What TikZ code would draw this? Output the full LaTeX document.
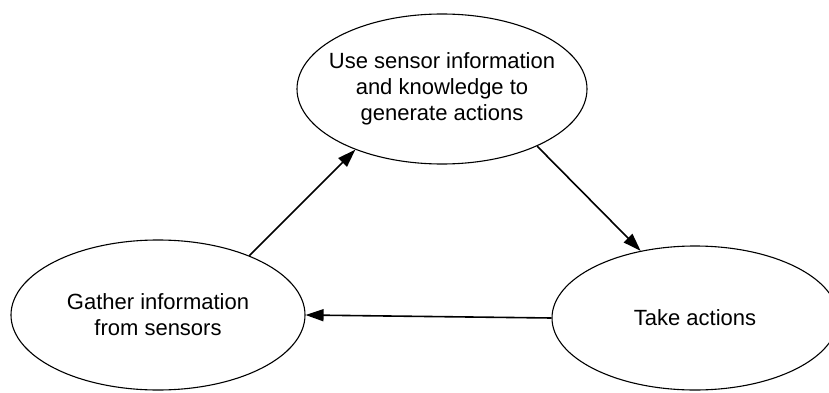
\documentclass[tikz,border=0pt]{standalone}
\usepackage{fontspec}
\setmainfont{Liberation Sans}
\usetikzlibrary{shapes.geometric,arrows.meta}

\tikzset{
  stage/.style={ellipse, draw=black, line width=1.1pt, inner sep=0pt},
  stagetext/.style={align=center, font=\fontsize{22}{26}\selectfont, inner sep=0pt},
  flow/.style={line width=1.6pt, -{Triangle[length=18pt,width=12pt]}},
}

\begin{document}
\begin{tikzpicture}[x=1pt, y=-1pt]
  \useasboundingbox (0,0) rectangle (829,393);

  % the three stages of the loop
  \node[stage, minimum width=290pt, minimum height=150pt] (use) at (442,89) {};
  \node[stagetext] (useText) at (use) {Use sensor information\\and knowledge to\\generate actions};

  \node[stage, minimum width=294pt, minimum height=150pt] (gather) at (158,315) {};
  \node[stagetext] (gatherText) at (gather) {Gather information\\from sensors};

  \node[stage, minimum width=286pt, minimum height=144pt] (take) at (695,318) {};
  \node[stagetext] (takeText) at (take) {Take actions};

  % connectors
  \draw[flow] (gather.33) -- (use.215);
  \draw[flow] (use.-31) -- (take.129);
  \draw[flow] (take.180) -- (gather.0);
\end{tikzpicture}
\end{document}
